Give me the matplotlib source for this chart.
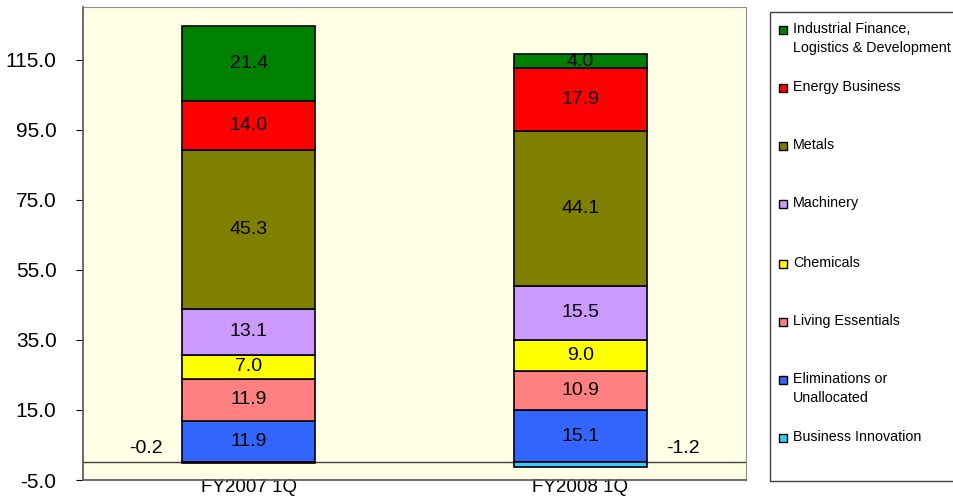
import matplotlib.pyplot as plt
from matplotlib.patches import Rectangle

plt.rcParams['font.family'] = ['Liberation Sans', 'DejaVu Sans']

categories = ['FY2007 1Q', 'FY2008 1Q']
# stacked bottom-up
series_names = ['Eliminations or\nUnallocated', 'Living Essentials', 'Chemicals',
                'Machinery', 'Metals', 'Energy Business',
                'Industrial Finance,\nLogistics & Development']
series_values = [
    [11.9, 15.1],
    [11.9, 10.9],
    [7.0, 9.0],
    [13.1, 15.5],
    [45.3, 44.1],
    [14.0, 17.9],
    [21.4, 4.0],
]
series_colors = ['#3366FF', '#FF8080', '#FFFF00', '#CC99FF', '#808000', '#FF0000', '#008000']
neg_name = 'Business Innovation'
neg_values = [-0.2, -1.2]
neg_color = '#33CCFF'
y_ticks = [-5, 15, 35, 55, 75, 95, 115]

fig = plt.figure(figsize=(9.54, 4.97), dpi=100)
ax = fig.add_axes([83 / 954, 1 - 480 / 497, (746 - 83) / 954, (480 - 7) / 497])
ax.set_facecolor('#FFFFE6')

x = list(range(len(categories)))
w = 0.4
bottoms = [0.0] * len(categories)
for vals, col in zip(series_values, series_colors):
    ax.bar(x, vals, w, bottom=bottoms, color=col, edgecolor='black', linewidth=1.2, zorder=3)
    for i, v in enumerate(vals):
        ax.text(x[i], bottoms[i] + v / 2, f'{v:.1f}', ha='center', va='center', fontsize=14, zorder=4)
    bottoms = [b + v for b, v in zip(bottoms, vals)]

ax.bar(x, neg_values, w, color=neg_color, edgecolor='black', linewidth=1.2, zorder=3)
ax.text(x[0] - 0.26, 4.0, f'{neg_values[0]:.1f}', ha='right', va='center', fontsize=14)
ax.text(x[1] + 0.26, 4.0, f'{neg_values[1]:.1f}', ha='left', va='center', fontsize=14)

ax.axhline(0, color='#404040', linewidth=1, zorder=2)
ax.set_xlim(-0.5, 1.5)
ax.set_ylim(-5, 130)
ax.set_yticks(y_ticks)
ax.set_yticklabels([f'{t:.1f}' for t in y_ticks], fontsize=15)
ax.set_xticks(x)
ax.set_xticklabels(categories, fontsize=13.5)
ax.tick_params(axis='x', length=0, pad=-1)
ax.tick_params(axis='y', length=5, pad=14)
for s in ['top', 'right']:
    ax.spines[s].set_color('#909090')
for s in ['left', 'bottom']:
    ax.spines[s].set_color('#606060')
    ax.spines[s].set_linewidth(1.3)

# legend box
fig.patches.append(Rectangle((770 / 954, 1 - 481 / 497), 0.3, (481 - 12) / 497,
                             transform=fig.transFigure, facecolor='white',
                             edgecolor='#404040', linewidth=1))
leg_names = series_names[::-1] + [neg_name]
leg_colors = series_colors[::-1] + [neg_color]
leg_y = [30, 88, 146, 204, 264, 322, 380, 438]
for name, col, yy in zip(leg_names, leg_colors, leg_y):
    fig.patches.append(Rectangle((779 / 954, 1 - (yy + 4) / 497), 8 / 954, 8 / 497,
                                 transform=fig.transFigure, facecolor=col,
                                 edgecolor='black', linewidth=1))
    fig.text(793 / 954, 1 - (yy - 8) / 497, name, fontsize=10.3, va='top', ha='left',
             linespacing=1.45)

fig.savefig('out.png', dpi=100)
